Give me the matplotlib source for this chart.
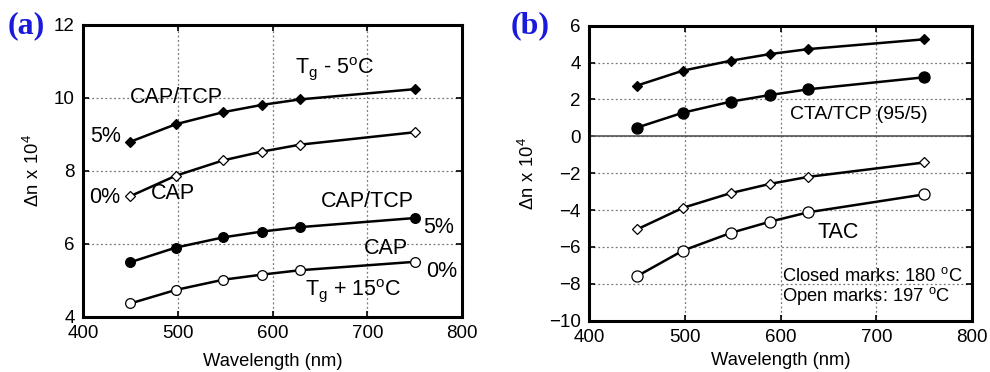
import matplotlib.pyplot as plt

plt.rcParams['font.family'] = ['Liberation Sans', 'DejaVu Sans']
plt.rcParams['mathtext.fontset'] = 'custom'
plt.rcParams['mathtext.rm'] = 'Liberation Sans'

wavelength = [450, 498, 548, 589, 629, 750]

# (a) CAP films, Tg - 5 C and Tg + 15 C
cap_tcp_lo = [8.80, 9.28, 9.61, 9.81, 9.96, 10.24]
cap_lo = [7.31, 7.87, 8.29, 8.53, 8.72, 9.06]
cap_tcp_hi = [5.50, 5.90, 6.18, 6.34, 6.46, 6.71]
cap_hi = [4.37, 4.74, 5.02, 5.16, 5.28, 5.51]

# (b) CTA/TCP (95/5) and TAC
cta_tcp_180 = [2.75, 3.56, 4.10, 4.46, 4.73, 5.26]
cta_tcp_197 = [0.47, 1.28, 1.88, 2.24, 2.55, 3.20]
tac_180 = [-5.05, -3.88, -3.08, -2.58, -2.20, -1.42]
tac_197 = [-7.59, -6.20, -5.24, -4.63, -4.12, -3.15]

fig = plt.figure(figsize=(9.9, 3.72), dpi=100)
ax1 = fig.add_axes([0.0838, 0.148, 0.383, 0.785])
ax2 = fig.add_axes([0.595, 0.138, 0.387, 0.793])


def style_axis(ax, ylim, yticks, xpad):
    ax.set_xlim(400, 800)
    ax.set_ylim(*ylim)
    ax.set_xticks([400, 500, 600, 700, 800])
    ax.set_yticks(yticks)
    ax.grid(True, linestyle=(0, (1.5, 2)), color='#777777', linewidth=0.9)
    ax.set_axisbelow(True)
    for s in ax.spines.values():
        s.set_linewidth(2.2)
    ax.tick_params(direction='in', length=4, width=1.2, labelsize=13.5,
                   top=True, right=True, pad=6)
    ax.set_xlabel('Wavelength (nm)', fontsize=13.2, labelpad=xpad)
    ax.set_ylabel(r'$\mathregular{\Delta n\ x\ 10^4}$', fontsize=13.2, labelpad=8)


def curve(ax, y, marker, filled, ms):
    ax.plot(wavelength, y, '-', color='black', linewidth=1.8, marker=marker,
            markersize=ms, markerfacecolor='black' if filled else 'white',
            markeredgecolor='black', markeredgewidth=0.9, zorder=3)


style_axis(ax1, (4, 12), [4, 6, 8, 10, 12], 7.5)
curve(ax1, cap_tcp_lo, 'D', True, 5)
curve(ax1, cap_lo, 'D', False, 5)
curve(ax1, cap_tcp_hi, 'o', True, 7)
curve(ax1, cap_hi, 'o', False, 7)

fs = 15.5
ax1.text(624, 10.81, r'T$_\mathregular{g}$ - 5$^\mathregular{o}$C', fontsize=fs, va='center')
ax1.text(449, 10.02, 'CAP/TCP', fontsize=fs, va='center')
ax1.text(408, 8.94, '5%', fontsize=fs, va='center')
ax1.text(407, 7.27, '0%', fontsize=fs, va='center')
ax1.text(472, 7.38, 'CAP', fontsize=fs, va='center')
ax1.text(651, 7.16, 'CAP/TCP', fontsize=fs, va='center')
ax1.text(759, 6.44, '5%', fontsize=fs, va='center')
ax1.text(696, 5.88, 'CAP', fontsize=fs, va='center')
ax1.text(762, 5.24, '0%', fontsize=fs, va='center')
ax1.text(634, 4.73, r'T$_\mathregular{g}$ + 15$^\mathregular{o}$C', fontsize=fs, va='center')

style_axis(ax2, (-10, 6), [-10, -8, -6, -4, -2, 0, 2, 4, 6], 4.5)
ax2.axhline(0, color='#555555', linewidth=1.2, zorder=1)
curve(ax2, cta_tcp_180, 'D', True, 5)
curve(ax2, cta_tcp_197, 'o', True, 8)
curve(ax2, tac_180, 'D', False, 5.5)
curve(ax2, tac_197, 'o', False, 8)

ax2.text(610, 1.19, 'CTA/TCP (95/5)', fontsize=14, va='center')
ax2.text(639, -5.21, 'TAC', fontsize=fs, va='center')
ax2.text(601, -7.58, r'Closed marks: 180 $^\mathregular{o}$C', fontsize=13.2, va='center')
ax2.text(601, -8.67, r'Open marks: 197 $^\mathregular{o}$C', fontsize=13.2, va='center')

panel_font = dict(family='Liberation Serif', fontweight='bold', fontsize=23, color='#1a1adc')
fig.text(0.008, 0.93, '(a)', **panel_font, va='center')
fig.text(0.516, 0.93, '(b)', **panel_font, va='center')

fig.savefig('out.png', dpi=100)
